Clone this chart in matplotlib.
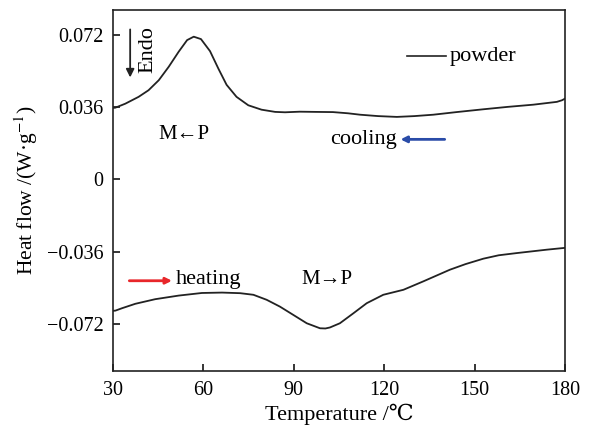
import numpy as np
import matplotlib
matplotlib.use("Agg")
import matplotlib.pyplot as plt

plt.rcParams['font.family'] = ['Liberation Serif', 'DejaVu Serif']
plt.rcParams['mathtext.fontset'] = 'stix'

# Curva de enfriamiento (cooling)
t_cool = [30, 30.8, 34.1, 38.5, 41.8, 45.2, 48.5, 51.8, 54.6, 56.8, 59.2, 62.2, 65,
          67.7, 71, 74.9, 79.3, 83.8, 87.1, 92, 97, 103, 108, 112, 118, 124.2, 130,
          136.3, 144, 152.9, 161, 169.5, 177.3, 179, 180]
q_cool = [0.0357, 0.0358, 0.0378, 0.0412, 0.0445, 0.0495, 0.0562, 0.0637, 0.0695,
          0.0712, 0.0700, 0.0640, 0.0552, 0.0472, 0.0412, 0.0370, 0.0348, 0.0337,
          0.0335, 0.0338, 0.0337, 0.0336, 0.0330, 0.0323, 0.0316, 0.0312, 0.0316,
          0.0323, 0.0336, 0.0350, 0.0362, 0.0373, 0.0387, 0.0395, 0.0403]

# Curva de calentamiento (heating)
t_heat = [30, 30.8, 33, 37.4, 44, 51.8, 59.5, 66.2, 72.2, 76.6, 81, 85.4, 89.8,
          94.3, 98.7, 100.5, 102, 105.3, 109.8, 114.2, 119.7, 126.4, 133, 141.8,
          147, 152.9, 158, 164, 174, 180]
q_heat = [-0.0655, -0.0654, -0.0642, -0.0620, -0.0597, -0.0579, -0.0566, -0.0564,
          -0.0567, -0.0575, -0.0600, -0.0634, -0.0675, -0.0717, -0.0742, -0.0743,
          -0.0738, -0.0717, -0.0667, -0.0617, -0.0575, -0.0550, -0.0508, -0.0450,
          -0.0422, -0.0395, -0.0378, -0.0367, -0.0350, -0.0341]

xticks = [30, 60, 90, 120, 150, 180]
yticks = [0.072, 0.036, 0, -0.036, -0.072]
ytick_labels = ['0.072', '0.036', '0', '\u22120.036', '\u22120.072']

fig = plt.figure(figsize=(5.9, 4.28), dpi=100)
ax = fig.add_axes([0.1915, 0.1332, 0.7661, 0.8434])

ax.plot(t_cool, q_cool, color='#222222', linewidth=1.3)
ax.plot(t_heat, q_heat, color='#222222', linewidth=1.3)

ax.set_xlim(30, 180)
ax.set_ylim(-0.0955, 0.0845)
ax.set_xticks(xticks)
ax.set_xticklabels([str(v) for v in xticks])
ax.set_yticks(yticks)
ax.set_yticklabels(ytick_labels)
ax.tick_params(direction='in', length=5, width=1.1, labelsize=14.5, pad=7,
               top=False, right=False)
for s in ax.spines.values():
    s.set_linewidth(1.2)
    s.set_color('#222222')

ax.set_xlabel('Temperature /\u2103', fontsize=16, labelpad=3)
ax.set_ylabel('Heat flow /(W\u00b7g$^{-1}$)', fontsize=15.5, labelpad=5)

# Anotaciones
ax.annotate('', xy=(35.7, 0.0495), xytext=(35.7, 0.0762),
            arrowprops=dict(arrowstyle='-|>', color='#222222', lw=1.3,
                            mutation_scale=12))
ax.text(41.5, 0.0648, 'Endo', rotation=90, fontsize=16, ha='center', va='center')

ax.plot([127.5, 140.5], [0.0615, 0.0615], color='#222222', linewidth=1.2)
ax.text(141.8, 0.0615, 'powder', fontsize=16, ha='left', va='center')

ax.text(45, 0.0225, 'M\u2190P', fontsize=15, ha='left', va='center')

ax.text(102, 0.0200, 'cooling', fontsize=16, ha='left', va='center')
ax.annotate('', xy=(124.5, 0.0200), xytext=(141, 0.0200),
            arrowprops=dict(arrowstyle='-|>', color='#2a4ca8', lw=2,
                            mutation_scale=9))

ax.annotate('', xy=(50.5, -0.0505), xytext=(34.5, -0.0505),
            arrowprops=dict(arrowstyle='-|>', color='#e8262a', lw=2,
                            mutation_scale=9))
ax.text(51, -0.0500, 'heating', fontsize=16, ha='left', va='center')

ax.text(92.5, -0.0500, 'M\u2192P', fontsize=15, ha='left', va='center')

fig.savefig('out.png', dpi=100)
